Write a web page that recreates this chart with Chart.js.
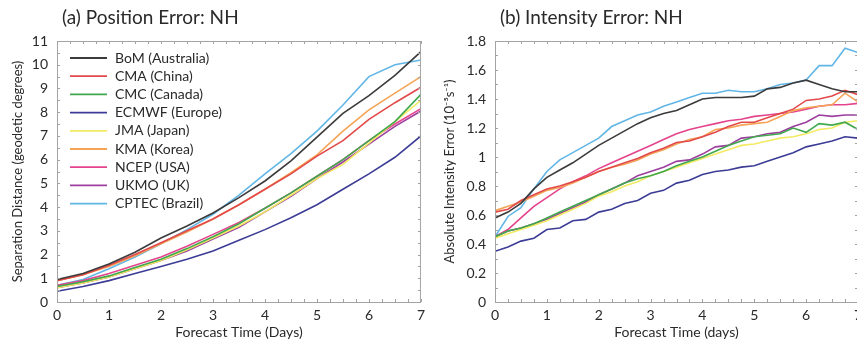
<!DOCTYPE html>
<html>
<head>
<meta charset="utf-8">
<script src="https://cdn.jsdelivr.net/npm/chart.js@4/dist/chart.umd.min.js"></script>
<style>
  html, body { margin: 0; padding: 0; background: #fff; overflow: hidden; }
  #wrap { position: relative; width: 857px; height: 344px; overflow: hidden; }
  #posBox { position: absolute; left: 0; top: 0; width: 430px; height: 344px; }
  #intBox { position: absolute; left: 430px; top: 0; width: 440px; height: 344px; }
</style>
</head>
<body>
<div id="wrap">
  <div id="posBox"><canvas id="pos" width="430" height="344"></canvas></div>
  <div id="intBox"><canvas id="int" width="440" height="344"></canvas></div>
</div>
<script>
// forecast centres and line colours
var centres = ['BoM (Australia)', 'CMA (China)', 'CMC (Canada)', 'ECMWF (Europe)', 'JMA (Japan)',
               'KMA (Korea)', 'NCEP (USA)', 'UKMO (UK)', 'CPTEC (Brazil)'];
var colours = ['#3b3b3b', '#e2494a', '#41a84e', '#3c3c96', '#f2ea62', '#f5a456', '#e4448c', '#9c3f9e', '#62b6e6'];

// (a) position error, every 12 h
var posDays = [0, 0.5, 1, 1.5, 2, 2.5, 3, 3.5, 4, 4.5, 5, 5.5, 6, 6.5, 7];
var posBoM   = [0.95, 1.2, 1.6, 2.1, 2.7, 3.2, 3.75, 4.4, 5.1, 5.95, 6.95, 7.95, 8.7, 9.55, 10.55];
var posCMA   = [0.9, 1.15, 1.55, 2.0, 2.5, 3.0, 3.5, 4.1, 4.75, 5.4, 6.15, 6.8, 7.7, 8.4, 9.05];
var posCMC   = [0.65, 0.85, 1.1, 1.45, 1.8, 2.25, 2.75, 3.3, 3.95, 4.6, 5.3, 6.0, 6.8, 7.6, 8.75];
var posECMWF = [0.45, 0.65, 0.9, 1.2, 1.5, 1.8, 2.15, 2.6, 3.05, 3.55, 4.1, 4.75, 5.4, 6.1, 7.0];
var posJMA   = [0.6, 0.8, 1.05, 1.4, 1.75, 2.2, 2.7, 3.2, 3.8, 4.5, 5.2, 5.8, 6.7, 7.6, 8.5];
var posKMA   = [0.9, 1.15, 1.5, 1.95, 2.45, 2.95, 3.5, 4.1, 4.75, 5.45, 6.2, 7.2, 8.1, 8.8, 9.5];
var posNCEP  = [0.7, 0.9, 1.2, 1.55, 1.9, 2.35, 2.85, 3.35, 3.95, 4.6, 5.3, 6.0, 6.8, 7.5, 8.15];
var posUKMO  = [0.6, 0.8, 1.05, 1.4, 1.75, 2.15, 2.65, 3.15, 3.8, 4.45, 5.2, 5.9, 6.65, 7.4, 8.05];
var posCPTEC = [0.7, 0.95, 1.4, 1.9, 2.45, 3.05, 3.7, 4.5, 5.4, 6.25, 7.2, 8.3, 9.5, 10.0, 10.2];

// (b) intensity error, every 6 h
var intDays = [0, 0.25, 0.5, 0.75, 1, 1.25, 1.5, 1.75, 2, 2.25, 2.5, 2.75, 3, 3.25, 3.5, 3.75, 4,
               4.25, 4.5, 4.75, 5, 5.25, 5.5, 5.75, 6, 6.25, 6.5, 6.75, 7];
var intBoM   = [0.58, 0.62, 0.68, 0.78, 0.86, 0.91, 0.96, 1.02, 1.08, 1.13, 1.18, 1.23, 1.27, 1.30, 1.32, 1.36, 1.40,
                1.41, 1.41, 1.41, 1.42, 1.47, 1.48, 1.51, 1.53, 1.50, 1.47, 1.45, 1.45];
var intCMA   = [0.62, 0.64, 0.70, 0.74, 0.78, 0.80, 0.83, 0.86, 0.90, 0.93, 0.96, 0.99, 1.03, 1.06, 1.10, 1.11, 1.14,
                1.17, 1.21, 1.24, 1.24, 1.27, 1.30, 1.33, 1.39, 1.40, 1.42, 1.46, 1.43];
var intCMC   = [0.45, 0.49, 0.51, 0.54, 0.58, 0.62, 0.66, 0.70, 0.74, 0.78, 0.82, 0.85, 0.87, 0.90, 0.94, 0.97, 1.00,
                1.04, 1.08, 1.11, 1.14, 1.15, 1.16, 1.20, 1.17, 1.23, 1.22, 1.24, 1.19];
var intECMWF = [0.35, 0.38, 0.42, 0.44, 0.50, 0.51, 0.56, 0.57, 0.62, 0.64, 0.68, 0.70, 0.75, 0.77, 0.82, 0.84, 0.88,
                0.90, 0.91, 0.93, 0.94, 0.97, 1.00, 1.03, 1.07, 1.09, 1.11, 1.14, 1.13];
var intJMA   = [0.44, 0.47, 0.50, 0.53, 0.56, 0.60, 0.64, 0.68, 0.73, 0.76, 0.80, 0.83, 0.87, 0.90, 0.93, 0.96, 0.99,
                1.02, 1.05, 1.08, 1.09, 1.11, 1.13, 1.14, 1.16, 1.19, 1.20, 1.24, 1.25];
var intKMA   = [0.63, 0.66, 0.69, 0.73, 0.77, 0.79, 0.82, 0.86, 0.90, 0.93, 0.95, 0.98, 1.02, 1.05, 1.09, 1.12, 1.14,
                1.19, 1.20, 1.22, 1.23, 1.24, 1.28, 1.32, 1.34, 1.35, 1.36, 1.44, 1.38];
var intNCEP  = [0.45, 0.50, 0.58, 0.66, 0.72, 0.78, 0.83, 0.87, 0.92, 0.96, 1.00, 1.04, 1.08, 1.12, 1.16, 1.19, 1.21,
                1.23, 1.25, 1.26, 1.28, 1.29, 1.30, 1.31, 1.33, 1.35, 1.36, 1.36, 1.37];
var intUKMO  = [0.45, 0.49, 0.51, 0.54, 0.57, 0.61, 0.65, 0.69, 0.74, 0.78, 0.82, 0.87, 0.90, 0.93, 0.97, 0.98, 1.02,
                1.07, 1.08, 1.13, 1.14, 1.16, 1.17, 1.21, 1.24, 1.29, 1.28, 1.29, 1.29];
var intCPTEC = [0.45, 0.59, 0.65, 0.78, 0.90, 0.98, 1.03, 1.08, 1.13, 1.21, 1.25, 1.29, 1.31, 1.35, 1.38, 1.41, 1.44,
                1.44, 1.46, 1.45, 1.45, 1.47, 1.50, 1.51, 1.53, 1.63, 1.63, 1.75, 1.72];

var posSeries = [posBoM, posCMA, posCMC, posECMWF, posJMA, posKMA, posNCEP, posUKMO, posCPTEC];
var intSeries = [intBoM, intCMA, intCMC, intECMWF, intJMA, intKMA, intNCEP, intUKMO, intCPTEC];

var FONT = 'Lato, "Open Sans", sans-serif';
var INK = '#2a2a2a';

function makeDatasets(days, series){
  return series.map(function(vals, i){
    return {
      label: centres[i],
      data: vals.map(function(v, j){ return {x: days[j], y: v}; }),
      borderColor: colours[i],
      borderWidth: 1.6,
      pointRadius: 0,
      tension: 0,
      fill: false
    };
  });
}

// panel title, frame and inward ticks, optional legend inside the plot
var decorations = {
  id: 'decorations',
  afterDatasetsDraw: function(chart, args, opts){
    var ctx = chart.ctx, a = chart.chartArea, x = chart.scales.x, y = chart.scales.y;
    ctx.save();
    ctx.strokeStyle = '#a3a3a3';
    ctx.lineWidth = 1;
    ctx.strokeRect(a.left + 0.5, a.top + 0.5, a.right - a.left - 1, a.bottom - a.top);
    ctx.beginPath();
    for (var v = x.min; v <= x.max + 1e-9; v += opts.xMinor){
      var px = Math.round(x.getPixelForValue(v)) + 0.5;
      ctx.moveTo(px, a.top); ctx.lineTo(px, a.top + 3);
      ctx.moveTo(px, a.bottom); ctx.lineTo(px, a.bottom - 3);
    }
    for (var w = y.min; w <= y.max + 1e-9; w += opts.yMinor){
      var py = Math.round(y.getPixelForValue(w)) + 0.5;
      ctx.moveTo(a.left, py); ctx.lineTo(a.left + 3, py);
      ctx.moveTo(a.right, py); ctx.lineTo(a.right - 3, py);
    }
    ctx.stroke();

    ctx.fillStyle = INK;
    ctx.font = '19px ' + FONT;
    ctx.textBaseline = 'middle';
    ctx.textAlign = 'left';
    ctx.fillText(opts.title, a.left + 5, 18);

    if (opts.legend){
      ctx.font = '14px ' + FONT;
      chart.data.datasets.forEach(function(ds, i){
        var ly = a.top + 17 + i * 18.2;
        ctx.strokeStyle = ds.borderColor;
        ctx.lineWidth = 1.8;
        ctx.beginPath();
        ctx.moveTo(a.left + 13, ly); ctx.lineTo(a.left + 50, ly);
        ctx.stroke();
        ctx.fillText(ds.label, a.left + 58, ly);
      });
    }
    ctx.restore();
  }
};

function makeChart(id, days, series, cfg){
  return new Chart(document.getElementById(id), {
    type: 'line',
    data: { datasets: makeDatasets(days, series) },
    plugins: [decorations],
    options: {
      responsive: false,
      animation: false,
      events: [],
      layout: { padding: { top: 41, right: cfg.padRight, left: 0, bottom: 0 } },
      plugins: {
        legend: { display: false },
        tooltip: { enabled: false },
        decorations: { title: cfg.title, legend: cfg.legend, xMinor: 0.25, yMinor: cfg.yMinor }
      },
      scales: {
        x: {
          type: 'linear', min: 0, max: 7,
          grid: { display: false, drawTicks: false },
          border: { display: false },
          ticks: { stepSize: 1, color: INK, font: { family: FONT, size: 14 }, padding: 5 },
          title: { display: true, text: cfg.xTitle, color: INK, font: { family: FONT, size: 14 }, padding: { top: 0, bottom: 3 } },
          afterFit: function(s){ s.height = 42; }
        },
        y: {
          min: 0, max: cfg.yMax,
          grid: { display: false, drawTicks: false },
          border: { display: false },
          ticks: {
            stepSize: cfg.yStep, color: INK, font: { family: FONT, size: 14 }, padding: 9,
            callback: function(v){ return String(+v.toFixed(1)); }
          },
          title: { display: true, text: cfg.yTitle, color: INK, font: { family: FONT, size: 13 }, padding: { top: cfg.yTitlePad, bottom: 0 } },
          afterFit: function(s){ s.width = cfg.yWidth; }
        }
      }
    }
  });
}

makeChart('pos', posDays, posSeries, {
  title: '(a) Position Error: NH', legend: true,
  xTitle: 'Forecast Time (Days)', yTitle: 'Separation Distance (geodetic degrees)',
  yMax: 11, yStep: 1, yMinor: 0.5, yWidth: 57, padRight: 9, yTitlePad: 10
});

makeChart('int', intDays, intSeries, {
  title: '(b) Intensity Error: NH', legend: false,
  xTitle: 'Forecast Time (days)', yTitle: 'Absolute Intensity Error (10\u207B\u2075s\u207B\u00B9)',
  yMax: 1.8, yStep: 0.2, yMinor: 0.1, yWidth: 65, padRight: 12, yTitlePad: 12
});
</script>
</body>
</html>
